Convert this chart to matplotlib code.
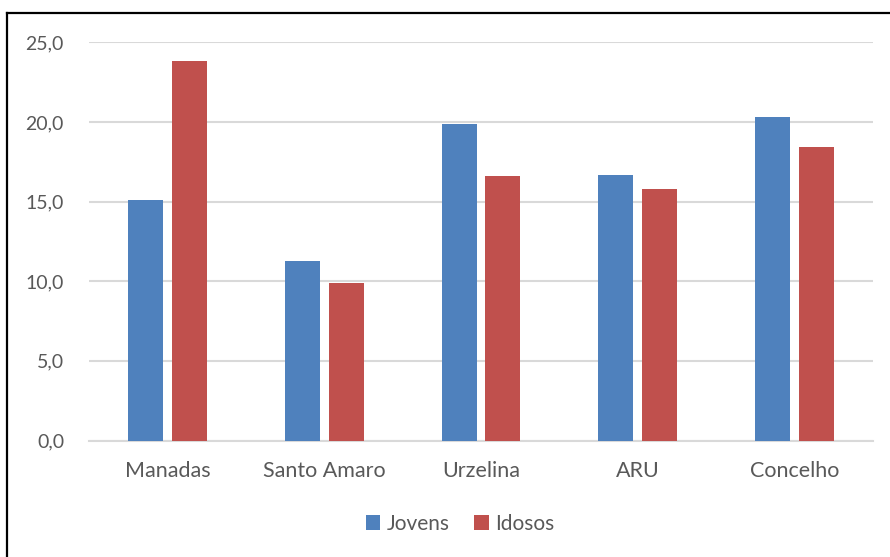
import matplotlib
matplotlib.use("Agg")
import matplotlib.pyplot as plt
import numpy as np
from matplotlib.lines import Line2D

plt.rcParams['font.family'] = ['Lato', 'DejaVu Sans']

categorias = ["Manadas", "Santo Amaro", "Urzelina", "ARU", "Concelho"]
jovens = [15.1, 11.3, 19.9, 16.7, 20.3]
idosos = [23.8, 9.9, 16.6, 15.8, 18.4]

azul = "#4f81bd"
vermelho = "#c0504d"
cinza_txt = "#595959"

fig = plt.figure(figsize=(8.9, 5.57), dpi=100)
ax = fig.add_axes([89 / 890, 1 - 440.5 / 557, 784 / 890, 398.2 / 557])

x = np.arange(len(categorias))
w = 0.223
off = 0.14
ax.bar(x - off, jovens, w, color=azul, label="Jovens", zorder=3)
ax.bar(x + off, idosos, w, color=vermelho, label="Idosos", zorder=3)

ax.set_xlim(-0.5, len(categorias) - 0.5)
ax.set_ylim(0, 25)
ax.set_yticks(np.arange(0, 26, 5))
ax.set_yticklabels([f"{v:.1f}".replace(".", ",") for v in np.arange(0, 26, 5)])
ax.set_xticks(x)
ax.set_xticklabels(categorias)
ax.grid(axis="y", color="#d9d9d9", linewidth=1.5, zorder=0)
for s in ["top", "right", "left"]:
    ax.spines[s].set_visible(False)
ax.spines["bottom"].set_color("#d9d9d9")
ax.spines["bottom"].set_linewidth(1.5)
ax.tick_params(axis="both", length=0, colors=cinza_txt)
ax.tick_params(axis="y", pad=18, labelsize=14)
ax.tick_params(axis="x", pad=15, labelsize=15.5)

leg = fig.legend(loc="center", bbox_to_anchor=(460 / 890, 1 - 524 / 557), ncol=2,
                 frameon=False, fontsize=15, handlelength=0.7, handleheight=0.7,
                 handletextpad=0.3, columnspacing=1.2)
for t in leg.get_texts():
    t.set_color(cinza_txt)

# moldura (linhas superior e esquerda)
fig.add_artist(Line2D([7 / 890, 1], [1 - 13 / 557, 1 - 13 / 557], color="black", linewidth=1.6,
                      transform=fig.transFigure))
fig.add_artist(Line2D([7 / 890, 7 / 890], [0, 1 - 13 / 557], color="black", linewidth=1.6,
                      transform=fig.transFigure))

fig.savefig("out.png", dpi=100)
